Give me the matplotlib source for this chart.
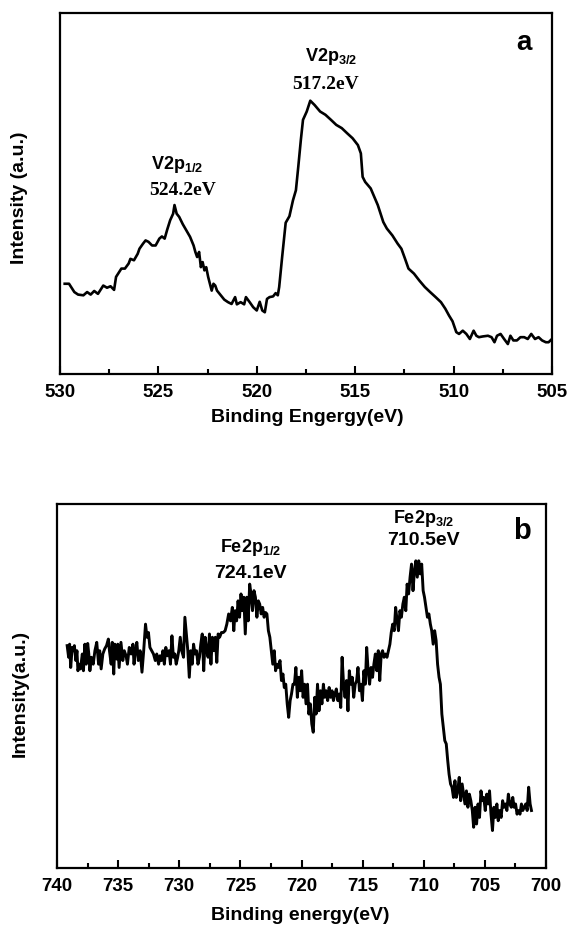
import numpy as np
import matplotlib
matplotlib.use("Agg")
import matplotlib.pyplot as plt
from matplotlib.ticker import MultipleLocator

plt.rcParams['font.family'] = ['Liberation Sans', 'DejaVu Sans']
plt.rcParams['font.weight'] = 'bold'
plt.rcParams['mathtext.fontset'] = 'custom'
plt.rcParams['mathtext.rm'] = 'Liberation Sans:bold'
plt.rcParams['mathtext.bf'] = 'Liberation Sans:bold'
plt.rcParams['mathtext.default'] = 'rm'

# panel a : V 2p region
energy_a = [529.76, 529.54, 529.27, 529.08, 528.81, 528.62, 528.44, 528.26, 528.07, 527.80,
            527.61, 527.43, 527.25, 527.15, 526.88, 526.70, 526.51, 526.42, 526.24, 526.05,
            525.96, 525.78, 525.65, 525.50, 525.32, 525.14, 524.95, 524.82, 524.68, 524.55,
            524.40, 524.25, 524.18, 524.07, 523.94, 523.76, 523.58, 523.39, 523.21, 523.12,
            523.03, 522.93, 522.84, 522.75, 522.66, 522.57, 522.47, 522.38, 522.29, 522.20,
            522.11, 522.02, 521.83, 521.65, 521.46, 521.28, 521.10, 521.01, 520.82, 520.64,
            520.55, 520.36, 520.18, 520.00, 519.85, 519.72, 519.59, 519.48, 519.35, 519.17,
            519.04, 518.93, 518.86, 518.71, 518.53, 518.34, 518.16, 518.01, 517.89, 517.76,
            517.65, 517.46, 517.28, 517.06, 516.78, 516.51, 516.23, 515.96, 515.68, 515.41,
            515.13, 514.86, 514.71, 514.62, 514.49, 514.21, 514.03, 513.85, 513.57, 513.39,
            513.11, 512.84, 512.65, 512.47, 512.29, 512.01, 511.74, 511.46, 511.19, 510.91,
            510.64, 510.42, 510.23, 510.05, 509.86, 509.72, 509.53, 509.35, 509.17, 508.98,
            508.84, 508.71, 508.52, 508.25, 508.07, 507.92, 507.79, 507.61, 507.43, 507.24,
            507.11, 506.96, 506.78, 506.60, 506.41, 506.23, 506.05, 505.86, 505.68, 505.50,
            505.31, 505.17, 505.00]
intensity_a = [25.0, 25.0, 22.7, 22.0, 21.8, 22.7, 22.0, 23.0, 22.2, 24.5,
               23.9, 24.3, 23.3, 26.9, 29.2, 29.2, 30.6, 31.9, 31.5, 33.3,
               34.7, 36.1, 37.0, 36.6, 35.6, 35.6, 37.5, 38.1, 37.5, 40.0,
               42.6, 44.4, 46.8, 44.4, 43.5, 41.5, 39.8, 38.0, 35.6, 33.8,
               32.4, 33.8, 29.6, 31.0, 28.7, 29.6, 26.9, 25.0, 23.1, 25.0,
               24.5, 23.1, 21.8, 20.6, 19.9, 19.4, 21.3, 19.3, 19.9, 19.3,
               21.3, 19.9, 18.5, 17.6, 20.0, 17.6, 17.1, 20.8, 21.3, 21.5,
               22.4, 21.8, 24.1, 32.4, 41.9, 43.7, 48.1, 50.9, 57.4, 64.8,
               70.4, 72.7, 75.7, 74.5, 72.7, 71.8, 70.4, 69.0, 68.1, 66.7,
               65.3, 63.4, 61.1, 54.6, 53.2, 51.4, 49.1, 46.8, 42.1, 40.3,
               38.4, 36.1, 34.7, 32.0, 29.2, 27.8, 25.9, 24.1, 22.7, 21.3,
               19.9, 18.1, 16.2, 14.6, 11.6, 11.1, 12.0, 11.1, 9.7, 12.0,
               10.6, 10.2, 10.4, 10.6, 10.2, 8.8, 10.6, 11.1, 9.7, 8.3,
               10.6, 9.3, 9.3, 10.2, 10.2, 9.7, 11.1, 9.7, 10.2, 9.3,
               8.8, 8.8, 9.7]

# panel b : Fe 2p region
energy_b = [739.17, 739.05, 738.97, 738.88, 738.76, 738.67, 738.58, 738.46, 738.37, 738.29,
            738.17, 738.08, 737.93, 737.84, 737.72, 737.61, 737.49, 737.40, 737.31, 737.19,
            737.04, 736.90, 736.75, 736.60, 736.51, 736.39, 736.25, 736.10, 735.95, 735.80,
            735.71, 735.57, 735.48, 735.36, 735.27, 735.12, 735.03, 734.92, 734.77, 734.62,
            734.50, 734.35, 734.24, 734.09, 733.94, 733.79, 733.70, 733.59, 733.47, 733.35,
            733.20, 733.05, 732.91, 732.76, 732.64, 732.52, 732.40, 732.26, 732.11, 731.96,
            731.84, 731.69, 731.58, 731.46, 731.34, 731.22, 731.10, 730.98, 730.84, 730.72,
            730.60, 730.48, 730.36, 730.25, 730.13, 730.04, 729.92, 729.80, 729.65, 729.54,
            729.42, 729.30, 729.18, 729.06, 728.94, 728.83, 728.71, 728.59, 728.47, 728.35,
            728.24, 728.12, 728.00, 727.88, 727.76, 727.64, 727.53, 727.41, 727.29, 727.17,
            727.05, 726.93, 726.82, 726.70, 726.55, 726.40, 726.25, 726.11, 725.96, 725.81,
            725.66, 725.54, 725.43, 725.31, 725.19, 725.07, 724.95, 724.84, 724.72, 724.60,
            724.48, 724.36, 724.24, 724.13, 724.01, 723.89, 723.77, 723.65, 723.53, 723.42,
            723.30, 723.18, 723.06, 722.94, 722.83, 722.71, 722.59, 722.47, 722.35, 722.23,
            722.12, 722.00, 721.88, 721.76, 721.64, 721.52, 721.41, 721.29, 721.17, 721.05,
            720.93, 720.82, 720.70, 720.58, 720.46, 720.34, 720.22, 720.11, 719.99, 719.87,
            719.75, 719.63, 719.51, 719.40, 719.28, 719.16, 719.04, 718.92, 718.81, 718.69,
            718.57, 718.45, 718.33, 718.21, 718.10, 717.98, 717.86, 717.74, 717.62, 717.50,
            717.39, 717.27, 717.15, 717.03, 716.91, 716.79, 716.68, 716.56, 716.44, 716.32,
            716.20, 716.09, 715.97, 715.85, 715.73, 715.61, 715.49, 715.38, 715.26, 715.14,
            715.02, 714.90, 714.78, 714.67, 714.55, 714.43, 714.31, 714.19, 714.08, 713.96,
            713.84, 713.72, 713.60, 713.48, 713.37, 713.25, 713.13, 713.01, 712.89, 712.77,
            712.66, 712.54, 712.42, 712.30, 712.18, 712.07, 711.95, 711.83, 711.71, 711.59,
            711.47, 711.36, 711.24, 711.12, 711.00, 710.88, 710.76, 710.65, 710.53, 710.41,
            710.29, 710.17, 710.05, 709.94, 709.82, 709.70, 709.58, 709.46, 709.35, 709.23,
            709.11, 708.99, 708.87, 708.75, 708.64, 708.52, 708.40, 708.28, 708.16, 708.04,
            707.93, 707.81, 707.69, 707.57, 707.45, 707.34, 707.22, 707.10, 706.98, 706.86,
            706.74, 706.63, 706.51, 706.39, 706.27, 706.15, 706.03, 705.92, 705.80, 705.68,
            705.56, 705.44, 705.32, 705.21, 705.09, 704.97, 704.85, 704.73, 704.62, 704.50,
            704.38, 704.26, 704.14, 704.02, 703.91, 703.79, 703.67, 703.55, 703.43, 703.32,
            703.20, 703.08, 702.96, 702.84, 702.72, 702.61, 702.49, 702.37, 702.25, 702.13,
            702.01, 701.90, 701.78, 701.66, 701.54, 701.42, 701.30, 701.19]
intensity_b = [61.1, 57.9, 61.5, 55.1, 60.6, 59.7, 61.1, 57.0, 59.7, 54.2,
               56.0, 54.7, 58.8, 54.2, 61.5, 56.0, 61.7, 58.8, 54.2, 57.9,
               56.0, 59.7, 62.0, 56.0, 59.7, 54.7, 58.8, 60.2, 61.1, 62.9,
               59.7, 56.0, 62.0, 53.3, 61.5, 57.4, 61.5, 55.1, 62.0, 57.0,
               59.7, 58.3, 56.0, 60.6, 58.8, 61.5, 56.0, 59.7, 62.0, 57.0,
               59.7, 53.8, 59.7, 67.0, 63.4, 64.7, 60.6, 59.7, 58.8, 57.0,
               58.8, 56.0, 58.3, 57.0, 59.7, 56.0, 60.6, 58.3, 59.7, 56.0,
               63.8, 57.9, 58.8, 56.0, 57.9, 59.7, 63.4, 59.7, 57.9, 68.9,
               64.3, 59.7, 52.4, 59.7, 56.0, 61.5, 58.8, 59.7, 56.0, 57.9,
               61.5, 64.3, 54.2, 63.4, 59.7, 57.9, 64.3, 56.0, 63.4, 59.7,
               63.4, 56.5, 64.3, 63.4, 64.7, 64.7, 65.2, 67.0, 69.8, 67.9,
               71.6, 65.2, 70.7, 67.9, 73.4, 68.9, 75.3, 70.7, 74.4, 64.3,
               74.4, 67.9, 78.0, 75.3, 70.7, 76.2, 74.4, 68.9, 73.4, 72.5,
               69.8, 71.6, 68.9, 70.2, 69.8, 65.2, 63.4, 59.7, 56.0, 59.7,
               54.2, 56.0, 55.1, 57.0, 51.5, 53.3, 49.6, 50.5, 45.1, 41.4,
               46.0, 47.8, 50.5, 50.5, 55.1, 46.9, 52.4, 48.7, 54.2, 46.9,
               50.5, 45.1, 50.5, 42.3, 45.1, 39.6, 37.3, 46.9, 42.3, 50.5,
               43.2, 48.7, 45.1, 50.5, 46.9, 48.7, 46.0, 49.6, 46.9, 48.7,
               46.0, 47.8, 49.2, 46.0, 47.8, 44.1, 57.9, 50.5, 46.9, 51.5,
               43.2, 54.2, 50.5, 52.4, 46.9, 50.5, 51.5, 55.1, 48.7, 50.5,
               46.0, 54.2, 50.5, 60.6, 54.2, 50.5, 55.1, 52.4, 56.0, 58.8,
               54.2, 59.7, 51.5, 58.8, 59.7, 57.9, 58.8, 57.9, 59.7, 61.5,
               64.7, 67.0, 65.2, 71.6, 67.9, 65.2, 70.7, 68.9, 72.5, 74.4,
               70.7, 78.0, 75.3, 79.9, 83.5, 76.2, 81.7, 84.4, 79.9, 84.4,
               80.8, 83.5, 76.2, 74.4, 71.6, 68.9, 69.8, 67.0, 65.2, 61.5,
               65.2, 62.5, 56.0, 52.4, 50.5, 42.3, 38.6, 35.0, 34.1, 29.5,
               25.8, 23.1, 22.2, 19.4, 24.0, 19.4, 21.2, 24.9, 18.5, 23.1,
               20.3, 17.6, 21.2, 16.7, 20.3, 18.5, 15.8, 11.2, 16.7, 12.1,
               17.6, 13.9, 21.2, 18.5, 19.4, 15.8, 20.3, 17.6, 21.2, 14.8,
               10.3, 16.7, 13.9, 17.6, 13.0, 15.8, 13.9, 18.5, 16.7, 17.6,
               15.8, 20.3, 17.6, 16.7, 19.4, 16.7, 17.6, 14.8, 15.8, 14.8,
               17.6, 15.8, 16.7, 17.6, 15.8, 22.2, 17.6, 15.8]

fig = plt.figure(figsize=(5.69, 9.26), dpi=100)
ax1 = fig.add_axes([0.1054, 0.5961, 0.8646, 0.3899])
ax2 = fig.add_axes([0.1002, 0.0626, 0.8594, 0.3931])

ax1.plot(energy_a, intensity_a, color='black', lw=1.9)
ax2.plot(energy_b, intensity_b, color='black', lw=2.1)

for ax, lo, hi in [(ax1, 530, 505), (ax2, 740, 700)]:
    ax.set_xlim(lo, hi)
    ax.set_ylim(0, 100)
    ax.set_yticks([])
    ax.xaxis.set_major_locator(MultipleLocator(5))
    ax.xaxis.set_minor_locator(MultipleLocator(2.5))
    ax.tick_params(axis='x', which='major', direction='in', length=6, width=1.5,
                   labelsize=13.5, pad=7)
    ax.tick_params(axis='x', which='minor', direction='in', length=3.5, width=1.5)
    for s in ax.spines.values():
        s.set_linewidth(1.6)

# panel a text
ax1.text(524.03, 57.9, 'V2p$_{1/2}$', ha='center', va='center', fontsize=13)
ax1.text(523.76, 50.9, '524.2eV', ha='center', va='center', fontsize=14,
         family='Liberation Serif', weight='bold')
ax1.text(516.23, 88.0, 'V2p$_{3/2}$', ha='center', va='center', fontsize=13)
ax1.text(516.51, 80.3, '517.2eV', ha='center', va='center', fontsize=14,
         family='Liberation Serif', weight='bold')
ax1.text(506.41, 91.7, 'a', ha='center', va='center', fontsize=20)

# panel b text
ax2.text(724.19, 88.1, 'Fe2p$_{1/2}$', ha='center', va='center', fontsize=13)
ax2.text(724.19, 80.8, '724.1eV', ha='center', va='center', fontsize=14)
ax2.text(710.0, 95.9, 'Fe2p$_{3/2}$', ha='center', va='center', fontsize=13)
ax2.text(710.0, 89.9, '710.5eV', ha='center', va='center', fontsize=14)
ax2.text(701.93, 92.7, 'b', ha='center', va='center', fontsize=21)

fig.text(307/569, 1 - 418/926, 'Binding Engergy(eV)', ha='center', va='center', fontsize=14)
fig.text(300/569, 1 - 916/926, 'Binding energy(eV)', ha='center', va='center', fontsize=14)
fig.text(20/569, 1 - 198/926, 'Intensity (a.u.)', ha='center', va='center',
         rotation=90, fontsize=14)
fig.text(20/569, 1 - 693/926, 'Intensity(a.u.)', ha='center', va='center',
         rotation=90, fontsize=14)

fig.savefig('out.png', dpi=100)
